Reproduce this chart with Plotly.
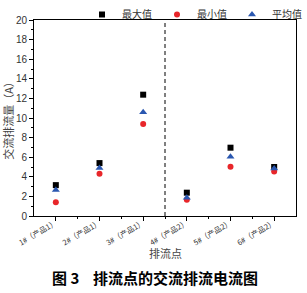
import plotly.graph_objects as go

categories = ["1#（产品1）", "2#（产品1）", "3#（产品1）", "4#（产品2）", "5#（产品2）", "6#（产品2）"]
max_vals = [3.15, 5.4, 12.38, 2.38, 6.97, 5.0]
min_vals = [1.4, 4.3, 9.4, 1.65, 5.03, 4.55]
avg_vals = [2.65, 4.9, 10.58, 1.87, 6.05, 4.85]
y_ticks = [0, 2, 4, 6, 8, 10, 12, 14, 16, 18, 20]

xs = list(range(len(categories)))
cjk = "Noto Sans CJK SC"
fig = go.Figure()
fig.add_trace(go.Scatter(x=xs, y=max_vals, mode="markers", name="最大值",
                         marker=dict(symbol="square", size=6, color="black")))
fig.add_trace(go.Scatter(x=xs, y=min_vals, mode="markers", name="最小值",
                         marker=dict(symbol="circle", size=6, color="#e8262a")))
fig.add_trace(go.Scatter(x=xs, y=avg_vals, mode="markers", name="平均值",
                         marker=dict(symbol="triangle-up", size=7, color="#2a57b0")))

fig.add_shape(type="line", x0=2.5, x1=2.5, xref="x", y0=0, y1=1, yref="paper",
              line=dict(color="black", width=1, dash="4px,3px"))

fig.update_layout(
    width=307, height=293,
    margin=dict(l=34, r=11, t=20, b=77, autoexpand=False),
    plot_bgcolor="white", paper_bgcolor="white",
    showlegend=True,
    legend=dict(orientation="h", x=1.0, xanchor="right", y=1.0, yanchor="top",
                yref="container", xref="container",
                font=dict(family=cjk, size=10, color="#333"), itemwidth=30,
                bgcolor="rgba(0,0,0,0)", tracegroupgap=0),
    xaxis=dict(range=[-0.5, 5.5], tickmode="array", tickvals=xs, ticktext=categories,
               tickangle=-30, ticks="outside", ticklen=4, tickcolor="black",
               ticklabelstandoff=-5,
               automargin=False,
               showline=True, linecolor="black", linewidth=1, mirror=True,
               showgrid=False, zeroline=False,
               minor=dict(tickvals=[0.5, 1.5, 2.5, 3.5, 4.5], ticks="outside", ticklen=2, tickcolor="black"),
               tickfont=dict(family=cjk, size=7.5, color="#333")),
    yaxis=dict(range=[0, 20], tickmode="array", tickvals=y_ticks,
               ticks="outside", ticklen=4, tickcolor="black",
               automargin=False,
               showline=True, linecolor="black", linewidth=1, mirror=True,
               showgrid=False, zeroline=False,
               minor=dict(dtick=1, ticks="outside", ticklen=2, tickcolor="black"),
               tickfont=dict(family="Liberation Sans", size=10, color="#333"),
               title=dict(text="交流排流量（A）", font=dict(family=cjk, size=11, color="#444"), standoff=3)),
)

fig.add_annotation(text="排流点", xref="paper", yref="paper",
                   x=0.5, y=-0.19, xanchor="center", yanchor="middle", showarrow=False,
                   font=dict(family=cjk, size=11, color="#444"))

fig.add_annotation(text="<b>图 3    排流点的交流排流电流图</b>", xref="paper", yref="paper",
                   x=0.46, y=-0.315, xanchor="center", yanchor="middle", showarrow=False,
                   font=dict(family=cjk, size=15, color="black"))

fig.write_html("out.html")
